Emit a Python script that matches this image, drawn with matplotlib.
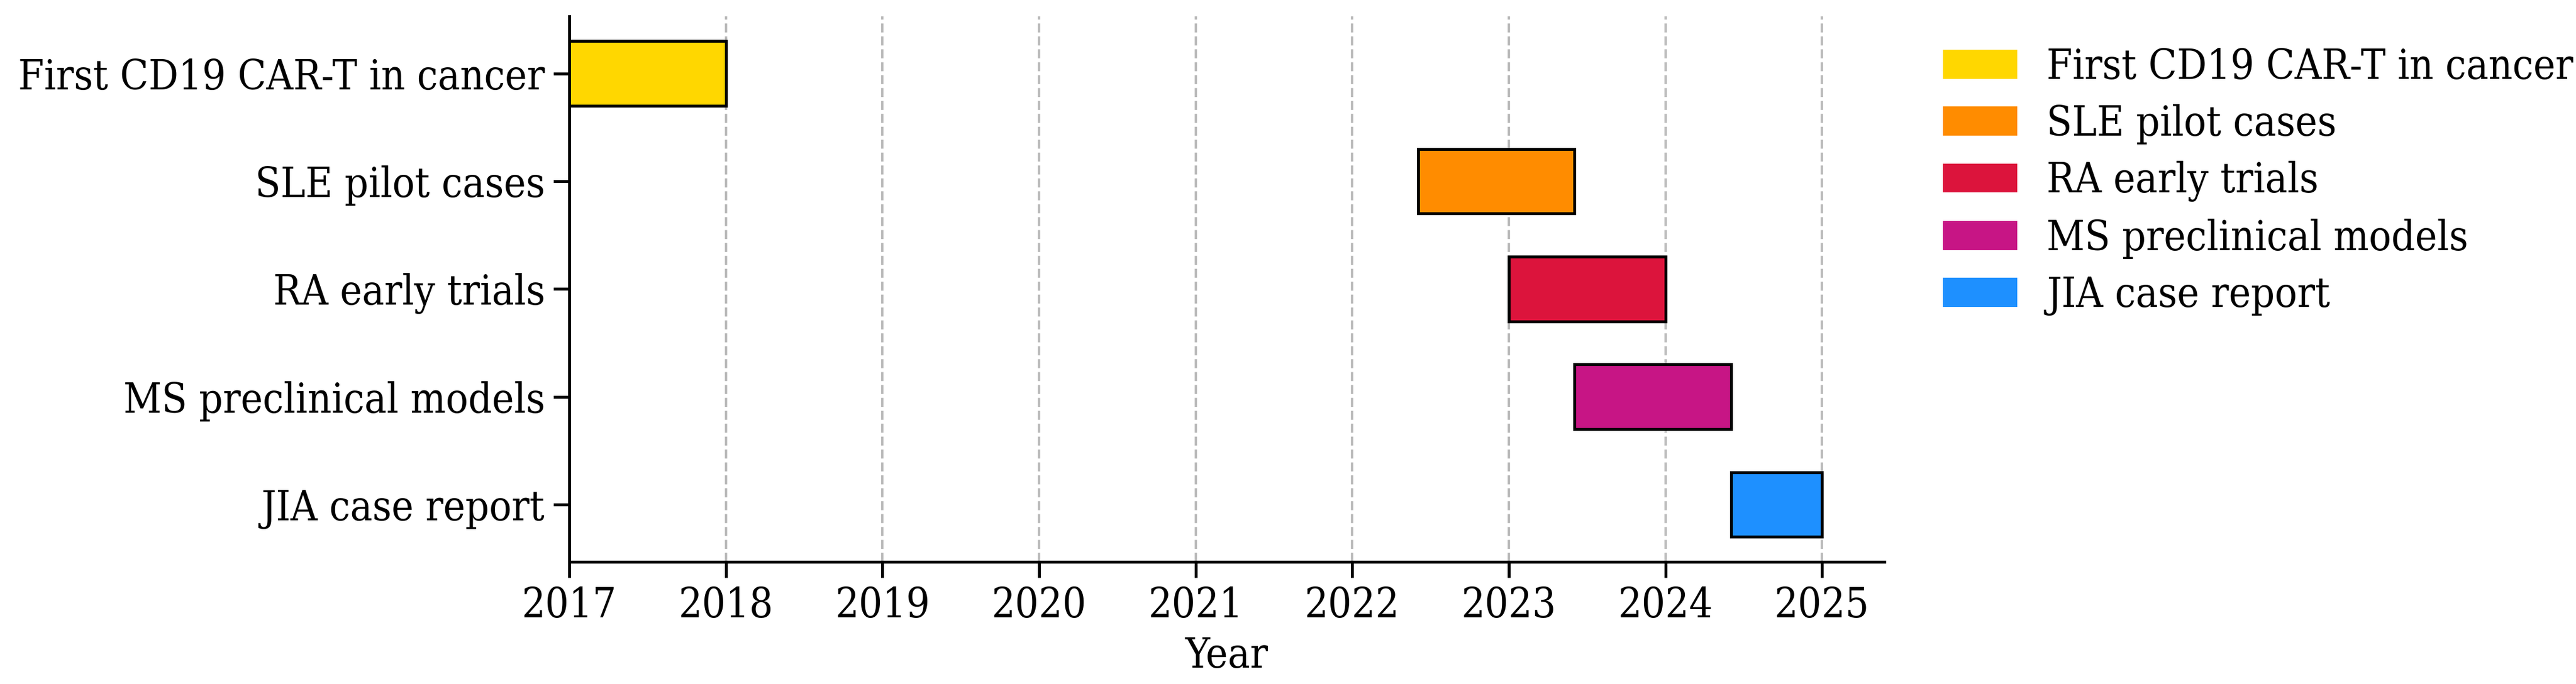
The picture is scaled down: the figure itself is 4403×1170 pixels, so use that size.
import matplotlib
matplotlib.use("Agg")
import matplotlib.pyplot as plt
from matplotlib import font_manager
from matplotlib.patches import Patch

# milestones, in fractional years
events = ["First CD19 CAR-T in cancer", "SLE pilot cases", "RA early trials",
          "MS preclinical models", "JIA case report"]
starts = [2017.0, 2022.42, 2023.0, 2023.42, 2024.42]
ends = [2018.0, 2023.42, 2024.0, 2024.42, 2025.0]
colors = ["#FFD700", "#FF8C00", "#DC143C", "#C71585", "#1E90FF"]
years = list(range(2017, 2026))

# the reference text looks narrow and tall: use the condensed cut if present
cond = font_manager.findfont(font_manager.FontProperties(family="DejaVu Serif",
                                                         stretch="condensed"))
plt.rcParams['font.family'] = ['DejaVu Serif']
if "Condensed" in cond:
    plt.rcParams['font.stretch'] = 'condensed'
    plt.rcParams['font.size'] = 17
else:
    plt.rcParams['font.size'] = 15.2

fig = plt.figure(figsize=(4403 / 300, 1170 / 300), dpi=300)
ax = fig.add_axes([0.221, 0.179, 0.7316 - 0.221, 0.976 - 0.179])

widths = [e - s for s, e in zip(starts, ends)]
ax.barh(events, widths, left=starts, height=0.6, color=colors,
        edgecolor="black", linewidth=1.2, zorder=3)
ax.invert_yaxis()

ax.set_xlim(2017, 2025.4)
ax.set_xticks(years)
ax.set_xlabel("Year")
ax.tick_params(length=6.5, width=1.2)
ax.grid(axis="x", linestyle="--", color="#bbbbbb", linewidth=1, zorder=0)
ax.spines["top"].set_visible(False)
ax.spines["right"].set_visible(False)
ax.spines["left"].set_linewidth(1.2)
ax.spines["bottom"].set_linewidth(1.2)

handles = [Patch(facecolor=c, label=l) for c, l in zip(colors, events)]
ax.legend(handles=handles, loc="upper left", bbox_to_anchor=(1.016, 1.012),
          frameon=False, labelspacing=0.4, handlelength=1.8,
          handletextpad=0.7)

fig.savefig("out.png", dpi=300)
